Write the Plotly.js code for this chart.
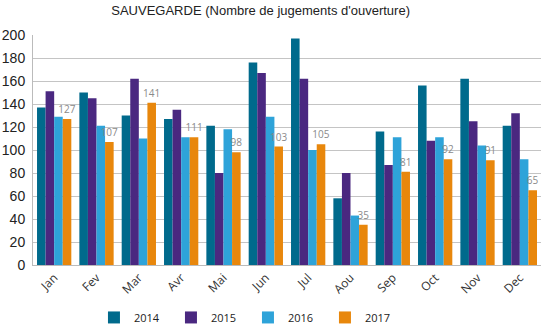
<!DOCTYPE html>
<html>
<head>
<meta charset="utf-8">
<script src="https://cdn.plot.ly/plotly-3.0.1.min.js"></script>
<style>html,body{margin:0;padding:0;background:#fff;}#chart{width:543px;height:326px;}</style>
</head>
<body>
<div id="chart"></div>
<script>
const months = ["Jan","Fev","Mar","Avr","Mai","Jun","Jul","Aou","Sep","Oct","Nov","Dec"];
const years = ["2014","2015","2016","2017"];
const v2014 = [137,150,130,127,121,176,197,58,116,156,162,121];
const v2015 = [151,145,162,135,80,167,162,80,87,108,125,132];
const v2016 = [129,121,110,111,118,129,100,43,111,111,104,92];
const v2017 = [127,107,141,111,98,103,105,35,81,92,91,65];
const yTicks = [0,20,40,60,80,100,120,140,160,180,200];
const colors = ["#006a8c","#4a2880","#2ea3d9","#e8870c"];

const series = [v2014, v2015, v2016, v2017];
const traces = series.map((vals, i) => {
  const t = {
    type: "bar",
    name: years[i],
    x: months,
    y: vals,
    marker: {color: colors[i]},
    hoverinfo: "none"
  };
  if (i === 3) {
    t.text = vals.map(String);
    t.textposition = "outside";
    t.textfont = {family: "Open Sans", size: 10, color: "#8a8a8a"};
    t.constraintext = "none";
    t.cliponaxis = false;
  }
  return t;
});

const layout = {
  width: 543, height: 326,
  margin: {l: 33, r: 2, t: 35, b: 61, autoexpand: false},
  paper_bgcolor: "#fff", plot_bgcolor: "#fff",
  title: {text: "SAUVEGARDE (Nombre de jugements d'ouverture)",
          font: {family: "Liberation Sans, Arial", size: 13, color: "#222"},
          x: 0.48, xanchor: "center", y: 0.968, yanchor: "middle"},
  barmode: "group", bargap: 0.19, bargroupgap: 0,
  showlegend: true,
  legend: {orientation: "h", x: 0.12, xanchor: "left", y: -0.165, yanchor: "top",
           font: {family: "Open Sans", size: 11, color: "#222"},
           entrywidth: 32, entrywidthmode: "pixels", traceorder: "normal"},
  xaxis: {type: "category", tickangle: -45, showgrid: false, automargin: false,
          tickfont: {family: "Open Sans", size: 12, color: "#333"},
          showline: true, linecolor: "#bbb", linewidth: 1, ticks: "", zeroline: false},
  yaxis: {range: [0, 200], tickvals: yTicks, ticktext: yTicks.map(String), automargin: false,
          tickfont: {family: "Liberation Sans, Arial", size: 14, color: "#222"},
          showgrid: true, gridcolor: "#c4c4c4", gridwidth: 1,
          showline: true, linecolor: "#bbb", linewidth: 1, ticks: "", zeroline: false,
          ticklabelstandoff: 4}
};

Plotly.newPlot("chart", traces, layout, {staticPlot: true, displayModeBar: false});
</script>
</body>
</html>
